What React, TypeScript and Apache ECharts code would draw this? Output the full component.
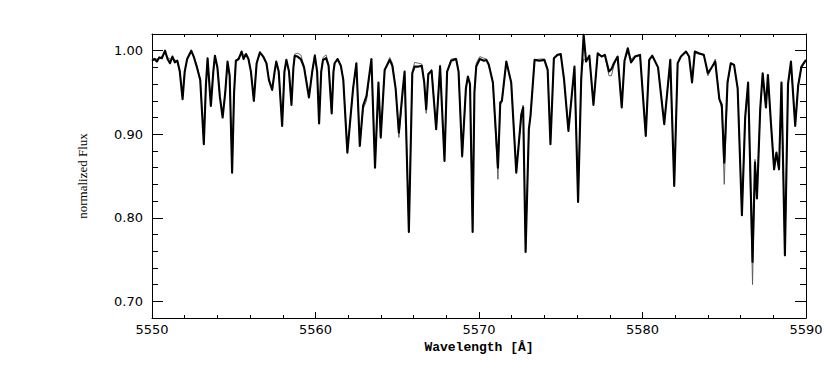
import React, { useEffect, useRef } from "react";
import * as echarts from "echarts";

// Wavelength grid (Å)
const wavelength: number[] = [
  5550.00, 5550.15, 5550.30, 5550.45, 5550.60, 5550.80, 5550.95, 5551.10, 5551.25, 5551.40,
  5551.55, 5551.70, 5551.87, 5552.00, 5552.15, 5552.40, 5552.55, 5552.75, 5552.95, 5553.17,
  5553.30, 5553.40, 5553.60, 5553.75, 5553.85, 5554.00, 5554.15, 5554.32, 5554.48, 5554.62,
  5554.75, 5554.90, 5555.02, 5555.13, 5555.30, 5555.48, 5555.60, 5555.75, 5555.90, 5556.05,
  5556.23, 5556.40, 5556.60, 5556.80, 5557.00, 5557.15, 5557.35, 5557.50, 5557.60, 5557.75,
  5557.96, 5558.10, 5558.22, 5558.38, 5558.53, 5558.65, 5558.73, 5558.90, 5559.10, 5559.30,
  5559.60, 5559.80, 5559.96, 5560.10, 5560.22, 5560.35, 5560.46, 5560.65, 5560.80, 5560.99,
  5561.10, 5561.17, 5561.35, 5561.55, 5561.70, 5561.95, 5562.13, 5562.30, 5562.50, 5562.71,
  5562.91, 5563.12, 5563.42, 5563.64, 5563.85, 5563.99, 5564.23, 5564.54, 5564.70, 5564.90,
  5565.10, 5565.34, 5565.45, 5565.71, 5565.92, 5566.06, 5566.30, 5566.50, 5566.65, 5566.77,
  5566.90, 5567.10, 5567.38, 5567.62, 5567.89, 5568.05, 5568.30, 5568.60, 5568.75, 5568.97,
  5569.20, 5569.32, 5569.45, 5569.61, 5569.72, 5569.83, 5570.05, 5570.30, 5570.45, 5570.60,
  5570.85, 5571.16, 5571.30, 5571.40, 5571.67, 5571.97, 5572.28, 5572.59, 5572.70, 5572.85,
  5573.05, 5573.15, 5573.40, 5573.70, 5574.00, 5574.20, 5574.37, 5574.58, 5574.80, 5575.00,
  5575.20, 5575.47, 5575.84, 5576.06, 5576.25, 5576.40, 5576.55, 5576.75, 5577.00, 5577.26,
  5577.50, 5577.70, 5577.95, 5578.10, 5578.25, 5578.48, 5578.73, 5578.90, 5579.10, 5579.30,
  5579.55, 5579.85, 5580.20, 5580.41, 5580.60, 5580.95, 5581.33, 5581.70, 5581.94, 5582.15,
  5582.35, 5582.66, 5582.85, 5583.03, 5583.20, 5583.45, 5583.75, 5584.00, 5584.20, 5584.45,
  5584.70, 5584.85, 5585.00, 5585.20, 5585.40, 5585.60, 5585.82, 5586.08, 5586.28, 5586.46,
  5586.73, 5586.88, 5587.00, 5587.20, 5587.35, 5587.55, 5587.67, 5587.85, 5588.05, 5588.19,
  5588.35, 5588.50, 5588.71, 5588.90, 5589.08, 5589.34, 5589.52, 5589.72, 5590.00,
];

// Observed spectrum (thick line)
const observedFlux: number[] = [
  0.988, 0.990, 0.987, 0.992, 0.991, 1.000, 0.990, 0.985, 0.993, 0.986,
  0.988, 0.975, 0.942, 0.975, 0.990, 1.000, 0.993, 0.980, 0.965, 0.888,
  0.960, 0.991, 0.934, 0.975, 0.994, 0.980, 0.945, 0.920, 0.950, 0.987,
  0.970, 0.854, 0.950, 0.988, 0.990, 0.999, 0.990, 0.996, 0.990, 0.975,
  0.940, 0.985, 0.998, 0.993, 0.985, 0.965, 0.953, 0.975, 0.987, 0.975,
  0.910, 0.975, 0.989, 0.975, 0.935, 0.980, 0.994, 0.993, 0.990, 0.980,
  0.944, 0.975, 0.994, 0.975, 0.913, 0.975, 0.989, 0.991, 0.982, 0.925,
  0.975, 0.985, 0.990, 0.982, 0.965, 0.878, 0.918, 0.955, 0.985, 0.886,
  0.934, 0.946, 0.990, 0.860, 0.962, 0.896, 0.977, 0.989, 0.982, 0.955,
  0.902, 0.954, 0.975, 0.783, 0.973, 0.981, 0.981, 0.982, 0.962, 0.930,
  0.972, 0.976, 0.906, 0.981, 0.868, 0.975, 0.988, 0.990, 0.975, 0.874,
  0.955, 0.969, 0.960, 0.783, 0.950, 0.981, 0.990, 0.988, 0.989, 0.983,
  0.962, 0.860, 0.938, 0.940, 0.987, 0.962, 0.854, 0.924, 0.932, 0.759,
  0.906, 0.922, 0.989, 0.988, 0.989, 0.977, 0.888, 0.991, 0.995, 0.996,
  0.966, 0.904, 0.981, 0.819, 0.965, 1.019, 0.987, 0.994, 0.935, 0.997,
  0.993, 0.995, 0.975, 0.978, 0.985, 0.993, 0.932, 0.988, 1.003, 0.986,
  0.993, 0.995, 0.898, 0.989, 0.994, 0.980, 0.912, 0.989, 0.838, 0.985,
  0.993, 0.999, 0.993, 0.962, 0.999, 0.997, 0.995, 0.973, 0.979, 0.987,
  0.942, 0.935, 0.866, 0.962, 0.985, 0.983, 0.955, 0.803, 0.920, 0.962,
  0.747, 0.866, 0.823, 0.930, 0.973, 0.932, 0.971, 0.915, 0.858, 0.878,
  0.858, 0.962, 0.755, 0.960, 0.987, 0.910, 0.958, 0.981, 0.989,
];

// Synthetic (model) spectrum (thin line)
const modelFlux: number[] = [
  0.990, 0.991, 0.990, 0.991, 0.993, 0.997, 0.992, 0.990, 0.990, 0.989,
  0.987, 0.977, 0.944, 0.975, 0.990, 0.998, 0.994, 0.982, 0.966, 0.890,
  0.960, 0.990, 0.936, 0.975, 0.993, 0.980, 0.945, 0.922, 0.950, 0.986,
  0.970, 0.858, 0.950, 0.988, 0.992, 0.997, 0.995, 0.995, 0.990, 0.975,
  0.942, 0.985, 0.997, 0.994, 0.986, 0.965, 0.955, 0.975, 0.987, 0.975,
  0.912, 0.975, 0.989, 0.975, 0.937, 0.980, 0.996, 0.997, 0.995, 0.982,
  0.946, 0.975, 0.996, 0.975, 0.915, 0.975, 0.992, 0.995, 0.984, 0.927,
  0.975, 0.985, 0.991, 0.982, 0.965, 0.880, 0.918, 0.955, 0.985, 0.888,
  0.930, 0.940, 0.990, 0.862, 0.960, 0.898, 0.977, 0.992, 0.985, 0.955,
  0.896, 0.950, 0.972, 0.785, 0.975, 0.986, 0.985, 0.984, 0.962, 0.925,
  0.970, 0.978, 0.906, 0.983, 0.870, 0.975, 0.990, 0.991, 0.975, 0.872,
  0.955, 0.969, 0.960, 0.785, 0.950, 0.985, 0.993, 0.991, 0.990, 0.985,
  0.962, 0.846, 0.935, 0.938, 0.987, 0.962, 0.856, 0.924, 0.935, 0.762,
  0.906, 0.922, 0.989, 0.990, 0.990, 0.977, 0.890, 0.991, 0.995, 0.995,
  0.966, 0.906, 0.981, 0.822, 0.970, 0.990, 0.988, 0.992, 0.937, 0.995,
  0.994, 0.994, 0.970, 0.970, 0.982, 0.993, 0.934, 0.988, 0.998, 0.990,
  0.994, 0.995, 0.900, 0.989, 0.994, 0.980, 0.914, 0.989, 0.840, 0.985,
  0.993, 0.998, 0.993, 0.964, 0.997, 0.996, 0.996, 0.970, 0.978, 0.990,
  0.942, 0.930, 0.840, 0.960, 0.985, 0.983, 0.955, 0.805, 0.920, 0.958,
  0.720, 0.870, 0.825, 0.930, 0.973, 0.932, 0.971, 0.915, 0.858, 0.878,
  0.860, 0.962, 0.757, 0.960, 0.985, 0.912, 0.958, 0.980, 0.988,
];

// Axis ticks
const xTickValues: number[] = [5550, 5560, 5570, 5580, 5590];
const yLabelValues: number[] = [0.7, 0.8, 0.9, 1.0];
const yMinorValues: number[] = [
  0.72, 0.74, 0.76, 0.78, 0.82, 0.84, 0.86, 0.88, 0.92, 0.94, 0.96, 0.98,
];

const X_MIN = xTickValues[0];
const X_MAX = xTickValues[xTickValues.length - 1];
const Y_MIN = 0.68;
const Y_MAX = 1.02;

export default function App() {
  const ref = useRef<HTMLDivElement>(null);

  useEffect(() => {
    if (!ref.current) return;
    const chart = echarts.init(ref.current, null, { renderer: "svg" });

    const observed = wavelength.map((w, i) => [w, observedFlux[i]]);
    const model = wavelength.map((w, i) => [w, modelFlux[i]]);

    const axisLineStyle = { color: "#000", width: 1 };
    const tickFont = { fontFamily: "DejaVu Sans", fontSize: 13, color: "#000" };

    const xCommon = {
      type: "value" as const,
      min: X_MIN,
      max: X_MAX,
      interval: 10,
      axisLine: { show: true, onZero: false, lineStyle: axisLineStyle },
      axisTick: { show: true, inside: true, length: 6, lineStyle: axisLineStyle },
      minorTick: { show: true, splitNumber: 5, length: 3, lineStyle: axisLineStyle },
      splitLine: { show: false },
      minorSplitLine: { show: false },
    };

    const yMajor = (position: "left" | "right", labels: boolean) => ({
      type: "value" as const,
      position,
      min: Y_MIN,
      max: Y_MAX,
      axisLine: { show: true, onZero: false, lineStyle: axisLineStyle },
      axisTick: {
        show: true,
        inside: true,
        length: 11,
        customValues: yLabelValues,
        lineStyle: axisLineStyle,
      },
      axisLabel: {
        show: labels,
        customValues: yLabelValues,
        margin: 9,
        formatter: (v: number) => v.toFixed(2),
        ...tickFont,
      },
      splitLine: { show: false },
    });

    const yMinor = (position: "left" | "right") => ({
      type: "value" as const,
      position,
      min: Y_MIN,
      max: Y_MAX,
      axisLine: { show: false },
      axisTick: {
        show: true,
        inside: true,
        length: 6,
        customValues: yMinorValues,
        lineStyle: axisLineStyle,
      },
      axisLabel: { show: false },
      splitLine: { show: false },
    });

    chart.setOption({
      animation: false,
      backgroundColor: "#fff",
      grid: { left: 152, right: 24, top: 34, bottom: 64, containLabel: false },
      xAxis: [
        {
          ...xCommon,
          position: "bottom",
          axisLabel: {
            show: true,
            margin: 5,
            formatter: (v: number) => String(v),
            ...tickFont,
          },
          name: "Wavelength [Å]",
          nameLocation: "middle",
          nameGap: 21,
          nameTextStyle: {
            fontFamily: "Liberation Mono",
            fontWeight: "bold",
            fontSize: 13,
            color: "#000",
          },
        },
        {
          ...xCommon,
          position: "top",
          axisLabel: { show: false },
        },
      ],
      yAxis: [
        {
          ...yMajor("left", true),
          name: "normalized Flux",
          nameLocation: "middle",
          nameGap: 63,
          nameRotate: 90,
          nameTextStyle: {
            fontFamily: "Liberation Serif",
            fontSize: 13,
            color: "#000",
          },
        },
        yMajor("right", false),
        yMinor("left"),
        yMinor("right"),
      ],
      series: [
        {
          name: "model",
          type: "line",
          xAxisIndex: 0,
          yAxisIndex: 0,
          data: model,
          showSymbol: false,
          symbol: "none",
          smooth: false,
          lineStyle: { color: "#555", width: 0.9, join: "round" },
          z: 2,
        },
        {
          name: "observed",
          type: "line",
          xAxisIndex: 0,
          yAxisIndex: 0,
          data: observed,
          showSymbol: false,
          symbol: "none",
          smooth: false,
          lineStyle: { color: "#000", width: 2.1, join: "round" },
          z: 3,
        },
      ],
    });

    return () => chart.dispose();
  }, []);

  return (
    <div
      ref={ref}
      style={{ position: "absolute", left: 0, top: 0, width: 830, height: 382 }}
    />
  );
}
